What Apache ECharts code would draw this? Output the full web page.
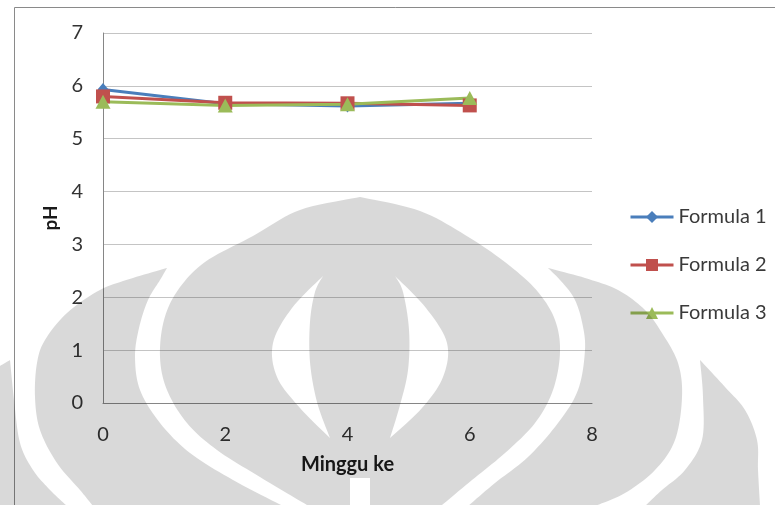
<!DOCTYPE html>
<html>
<head>
<meta charset="utf-8">
<title>pH Formula</title>
<script src="https://cdn.jsdelivr.net/npm/echarts@6/dist/echarts.min.js"></script>
<style>
  html, body { margin: 0; padding: 0; background: #ffffff; }
  #chart { width: 775px; height: 505px; }
</style>
</head>
<body>
<div id="chart"></div>
<script>
// Weeks of storage and measured pH for each formula
const weeks = [0, 2, 4, 6];
const formula1 = [5.93, 5.66, 5.62, 5.67];
const formula2 = [5.80, 5.68, 5.67, 5.63];
const formula3 = [5.70, 5.63, 5.65, 5.77];
const seriesNames = ['Formula 1', 'Formula 2', 'Formula 3'];
const axisTitles = { x: 'Minggu ke', y: 'pH' };

const FONT = 'Lato, "Open Sans", sans-serif';
const colors = ['#4a7ebb', '#c0504d', '#9bbb59'];
const symbols = ['diamond', 'rect', 'triangle'];
const symbolSizes = [[11, 13], [14, 14], [15, 14]];

// ---- Background emblem (light grey, multiplied over the page) ----
// Smooth outlines are sampled from Catmull-Rom curves through a few guide points.
function sampleRun(pts, n) {
  n = n || 10;
  const out = [pts[0]];
  for (let i = 0; i < pts.length - 1; i++) {
    const p0 = pts[i - 1] || pts[i], p1 = pts[i], p2 = pts[i + 1], p3 = pts[i + 2] || p2;
    const c1 = [p1[0] + (p2[0] - p0[0]) / 6, p1[1] + (p2[1] - p0[1]) / 6];
    const c2 = [p2[0] - (p3[0] - p1[0]) / 6, p2[1] - (p3[1] - p1[1]) / 6];
    for (let k = 1; k <= n; k++) {
      const t = k / n, u = 1 - t;
      const a = u * u * u, b = 3 * u * u * t, c = 3 * u * t * t, d = t * t * t;
      out.push([
        a * p1[0] + b * c1[0] + c * c2[0] + d * p2[0],
        a * p1[1] + b * c1[1] + c * c2[1] + d * p2[1]
      ]);
    }
  }
  return out;
}
function ring(runs) {
  return [].concat(...runs.map(r => sampleRun(r)));
}
function signedArea(pts) {
  let a = 0;
  for (let i = 0; i < pts.length; i++) {
    const p = pts[i], q = pts[(i + 1) % pts.length];
    a += p[0] * q[1] - q[0] * p[1];
  }
  return a / 2;
}
// a closed hole loop that starts and ends at its first point, wound against `sign`
function holeLoop(pts, sign) {
  let loop = pts.slice();
  if (Math.sign(signedArea(loop)) === sign) {
    loop = [loop[0]].concat(loop.slice(1).reverse());
  }
  return loop.concat([loop[0]]);
}

const domeLeft = sampleRun([[360,197],[300,210],[253,236],[205,262],[178,290],[164,320],[160,357],[167,390],[187,423],[217,450],[260,477],[307,505]]);
const domeRight = sampleRun([[442,505],[472,480],[505,453],[535,423],[553,390],[560,352],[555,320],[538,292],[510,266],[470,238],[420,211],[360,197]]);
const domeSign = Math.sign(signedArea(domeLeft.concat(domeRight)));
const lensLeft = ring([
  [[330,438],[317,402],[310,362],[310,322],[315,292],[323,276]],
  [[323,276],[292,308],[273,343],[277,377],[300,408],[330,438]]
]);
const lensRight = ring([
  [[390,438],[400,405],[408,370],[409,330],[403,292],[395,276]],
  [[395,276],[426,308],[447,343],[443,377],[422,408],[390,438]]
]);
const dome = domeLeft
  .concat([[330,506]], holeLoop(lensLeft, domeSign), [[330,506]])
  .concat([[350,506],[350,478],[370,478],[370,506],[390,506]])
  .concat(holeLoop(lensRight, domeSign), [[390,506]])
  .concat(domeRight);

const petalLeft = ring([
  [[167,268],[133,278],[100,290],[67,313],[45,340],[37,363],[35,397],[40,430],[57,463],[80,490],[93,506]],
  [[283,506],[233,480],[190,453],[160,423],[140,390],[135,357],[139,328],[148,300],[160,280],[167,268]]
]);
const petalRight = ring([
  [[548,268],[585,278],[618,290],[645,310],[662,333],[678,363],[682,397],[675,440],[655,470],[625,493],[595,506]],
  [[468,506],[495,483],[528,457],[558,423],[578,390],[585,350],[582,322],[574,298],[560,280],[548,268]]
]);
const outerRight = ring([
  [[700,360],[725,387],[745,410],[757,440],[758,470],[760,506]],
  [[645,506],[662,490],[685,470],[702,440],[703,397],[700,360]]
]);
const outerLeft = ring([
  [[0,366],[10,360]],
  [[10,360],[14,400],[20,443],[33,470],[50,490],[67,506]],
  [[0,506],[0,366]]
]);

const emblem = [dome, petalLeft, petalRight, outerLeft, outerRight].map(pts => ({
  type: 'polygon', z: 100, silent: true,
  shape: { points: pts },
  style: { fill: '#d9d9d9', stroke: null, blend: 'multiply' }
}));

const chart = echarts.init(document.getElementById('chart'), null, { renderer: 'canvas' });

const series = [formula1, formula2, formula3].map((vals, i) => ({
  name: seriesNames[i],
  type: 'line',
  data: weeks.map((w, j) => [w, vals[j]]),
  symbol: symbols[i],
  symbolSize: symbolSizes[i],
  showSymbol: true,
  lineStyle: { color: colors[i], width: 3 },
  itemStyle: { color: colors[i], borderWidth: 0 },
  animation: false
}));

chart.setOption({
  animation: false,
  backgroundColor: '#ffffff',
  textStyle: { fontFamily: FONT },
  graphic: [
    {
      type: 'rect', z: 1, silent: true,
      shape: { x: 14.5, y: 7.5, width: 900, height: 600 },
      style: { fill: null, stroke: '#8a8a8a', lineWidth: 1 }
    }
  ].concat(emblem),
  grid: { left: 103, top: 33, width: 489, height: 370, containLabel: false },
  legend: {
    orient: 'vertical',
    left: 629,
    top: 207,
    padding: 0,
    itemWidth: 43,
    itemHeight: 15,
    itemGap: 28,
    data: seriesNames,
    textStyle: { fontFamily: FONT, fontSize: 20, color: '#3a3a3a' },
    lineStyle: { width: 3 },
    itemStyle: { borderWidth: 0 }
  },
  xAxis: {
    type: 'value',
    min: 0, max: 8, interval: 2,
    name: axisTitles.x,
    nameLocation: 'middle',
    nameGap: 52,
    nameTextStyle: { fontFamily: FONT, fontSize: 20, fontWeight: 'bold', color: '#1a1a1a' },
    axisLine: { show: true, lineStyle: { color: '#868686', width: 1 } },
    axisTick: { show: false },
    splitLine: { show: false },
    axisLabel: { margin: 22, fontFamily: FONT, fontSize: 20, color: '#333333' }
  },
  yAxis: {
    type: 'value',
    min: 0, max: 7, interval: 1,
    name: axisTitles.y,
    nameLocation: 'middle',
    nameGap: 30,
    nameRotate: 90,
    nameTextStyle: { fontFamily: FONT, fontSize: 19, fontWeight: 'bold', color: '#1a1a1a' },
    axisLine: { show: true, lineStyle: { color: '#868686', width: 1 } },
    axisTick: { show: false },
    splitLine: { show: true, lineStyle: { color: '#c4c4c4', width: 1 } },
    axisLabel: { margin: 20, fontFamily: FONT, fontSize: 20, color: '#333333' }
  },
  series: series
});
</script>
</body>
</html>
